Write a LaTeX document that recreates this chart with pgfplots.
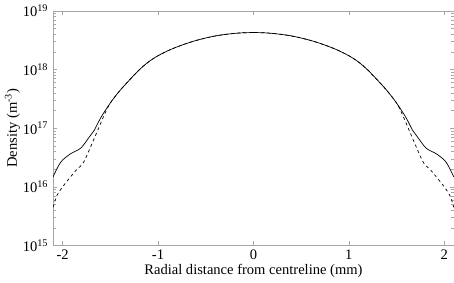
\documentclass[border=0pt]{standalone}
\usepackage{pgfplots}
\pgfplotsset{compat=1.18}
\usepackage{fontspec}
\setmainfont{Liberation Serif}
\begin{document}
\fontsize{14.5}{16}\selectfont
\begin{tikzpicture}
\begin{axis}[
  scale only axis,
  width=398bp, height=233bp,
  ymode=log,
  xmin=-2.1, xmax=2.1,
  ymin=1e15, ymax=1e19,
  xtick={-2,-1,0,1,2},
  ytick={1e15,1e16,1e17,1e18,1e19},
  yticklabels={10\textsuperscript{15},10\textsuperscript{16},10\textsuperscript{17},10\textsuperscript{18},10\textsuperscript{19}},
  /pgf/number format/assume math mode=true,
  tick align=inside,
  axis line style={gray!70},
  every tick/.style={gray!70, line width=0.5pt},
  major tick length=4bp, minor tick length=2.5bp,
  xlabel={Radial distance from centreline (mm)},
  ylabel={Density (m\textsuperscript{-3})},
  xlabel style={yshift=5bp},
  ylabel style={yshift=-7bp},
  xticklabel style={yshift=1bp},
  tick label style={font=\fontsize{14.5}{16}\selectfont},
  label style={font=\fontsize{14.5}{16}\selectfont},
]
\addplot[black, line width=0.7pt, smooth, tension=0.5] coordinates {
(-2.1,1.48e16) (-2.02,2.63e16) (-1.92,3.63e16) (-1.81,4.57e16) (-1.72,7.08e16) (-1.67,9.12e16)
(-1.6,1.51e17) (-1.5,2.69e17) (-1.4,4.37e17) (-1.3,6.61e17) (-1.2,9.77e17) (-1.1,1.35e18)
(-1.0,1.72e18) (-0.875,2.17e18) (-0.75,2.61e18) (-0.625,3.05e18) (-0.5,3.45e18) (-0.375,3.80e18) (-0.25,4.05e18) (-0.125,4.22e18) (0,4.27e18)
(0.125,4.22e18) (0.25,4.05e18) (0.375,3.80e18) (0.5,3.45e18) (0.625,3.05e18) (0.75,2.61e18) (0.875,2.17e18) (1.0,1.72e18) (1.1,1.35e18) (1.2,9.77e17)
(1.3,6.61e17) (1.4,4.37e17) (1.5,2.69e17) (1.6,1.51e17) (1.67,9.12e16) (1.72,7.08e16)
(1.81,4.57e16) (1.92,3.63e16) (2.02,2.63e16) (2.1,1.48e16)
};
\addplot[black, line width=0.7pt, dashed, smooth, tension=0.5] coordinates {
(-2.1,4.47e15) (-2.06,7.08e15) (-1.99,1.05e16) (-1.86,1.91e16) (-1.78,2.63e16) (-1.67,6.61e16)
(-1.565,1.66e17) (-1.5,2.69e17) (-1.4,4.37e17) (-1.3,6.61e17) (-1.2,9.77e17) (-1.1,1.35e18)
(-1.0,1.72e18) (-0.875,2.17e18) (-0.75,2.61e18) (-0.625,3.05e18) (-0.5,3.45e18) (-0.375,3.80e18) (-0.25,4.05e18) (-0.125,4.22e18) (0,4.27e18)
(0.125,4.22e18) (0.25,4.05e18) (0.375,3.80e18) (0.5,3.45e18) (0.625,3.05e18) (0.75,2.61e18) (0.875,2.17e18) (1.0,1.72e18) (1.1,1.35e18) (1.2,9.77e17)
(1.3,6.61e17) (1.4,4.37e17) (1.5,2.69e17) (1.565,1.66e17) (1.67,6.61e16) (1.78,2.63e16)
(1.86,1.91e16) (1.99,1.05e16) (2.06,7.08e15) (2.1,4.47e15)
};
\end{axis}
\end{tikzpicture}
\end{document}
